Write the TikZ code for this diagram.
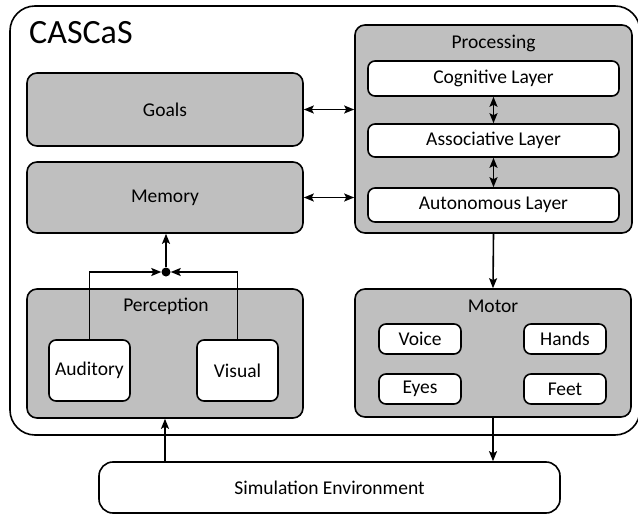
\documentclass[tikz,border=0pt]{standalone}
\usepackage{fontspec}
\setmainfont{Carlito}
\usetikzlibrary{arrows.meta}
\definecolor{boxgray}{RGB}{191,191,191}
\tikzset{
  line/.style={line width=1.6pt},
  tip/.style={},
  arr/.style={line, -{Stealth[length=10pt,width=8pt,inset=2pt]}},
  darr/.style={line, {Stealth[length=10pt,width=8pt,inset=2pt]}-{Stealth[length=10pt,width=8pt,inset=2pt]}},
  txt/.style={font=\fontsize{19.5}{23}\selectfont},
  graybox/.style={draw, line, fill=boxgray, rounded corners=10pt, inner sep=0pt, txt},
  whitebox/.style={draw, line, fill=white, rounded corners=7pt, inner sep=0pt, txt},
  lbl/.style={txt, inner sep=0pt},
}
\begin{document}
\begin{tikzpicture}[x=1pt,y=-1pt]
\useasboundingbox (0,0) rectangle (638,514);
% outer system frame
\draw[line, rounded corners=25pt] (10,6) rectangle (640,435);
\node[font=\fontsize{34}{40}\selectfont, anchor=west, inner sep=0pt] (title) at (29,33) {CASCaS};

% left column
\node[graybox, minimum width=276pt, minimum height=73pt] (goals) at (165,109.5) {Goals};
\node[graybox, minimum width=276pt, minimum height=71pt] (memory) at (165,197.5) {Memory};
\node[graybox, minimum width=276pt, minimum height=129pt] (perception) at (165,353.5) {};
\node[lbl] (perclbl) at (166,306) {Perception};
\node[whitebox, minimum width=81pt, minimum height=61pt] (auditory) at (89.5,370.5) {Auditory};
\node[whitebox, minimum width=81pt, minimum height=61pt] (visual) at (237.5,370.5) {Visual};
\node[circle, fill=black, inner sep=0pt, minimum size=9pt] (join) at (166,272) {};

% right column
\node[graybox, minimum width=277pt, minimum height=208pt] (processing) at (493.5,129) {};
\node[lbl] (proclbl) at (493.5,43) {Processing};
\node[whitebox, minimum width=251pt, minimum height=35pt] (cognitive) at (493.5,78.5) {Cognitive Layer};
\node[whitebox, minimum width=251pt, minimum height=33pt] (associative) at (493.5,140.5) {Associative Layer};
\node[whitebox, minimum width=251pt, minimum height=34pt] (autonomous) at (493.5,205) {Autonomous Layer};

\node[graybox, minimum width=276pt, minimum height=128pt] (motor) at (493,353) {};
\node[lbl] (motorlbl) at (493,306) {Motor};
\node[whitebox, minimum width=82pt, minimum height=30pt] (voice) at (420,339) {Voice};
\node[whitebox, minimum width=82pt, minimum height=30pt] (hands) at (565,339) {Hands};
\node[whitebox, minimum width=82pt, minimum height=30pt] (eyes) at (420,389) {Eyes};
\node[whitebox, minimum width=82pt, minimum height=30pt] (feet) at (565,389) {Feet};

% environment
\node[draw, line, fill=white, rounded corners=14pt, minimum width=461pt, minimum height=51pt, txt] (sim) at (329.5,487.5) {Simulation Environment};

% connectors
\draw[darr] (goals.east) -- (goals.east -| processing.west);
\draw[darr] (memory.east) -- (memory.east -| processing.west);
\draw[darr] (cognitive.south) -- (associative.north);
\draw[darr] (associative.south) -- (autonomous.north);
\draw[arr] (processing.south) -- (motor.north);
\draw[arr] (motor.south) -- (motor.south |- sim.north);
\draw[arr] (perception.south |- sim.north) -- (perception.south);
\draw[arr] (auditory.north) |- (join.west);
\draw[arr] (visual.north) |- (join.east);
\draw[arr] (join.north) -- (memory.south -| join.north);
\end{tikzpicture}
\end{document}
